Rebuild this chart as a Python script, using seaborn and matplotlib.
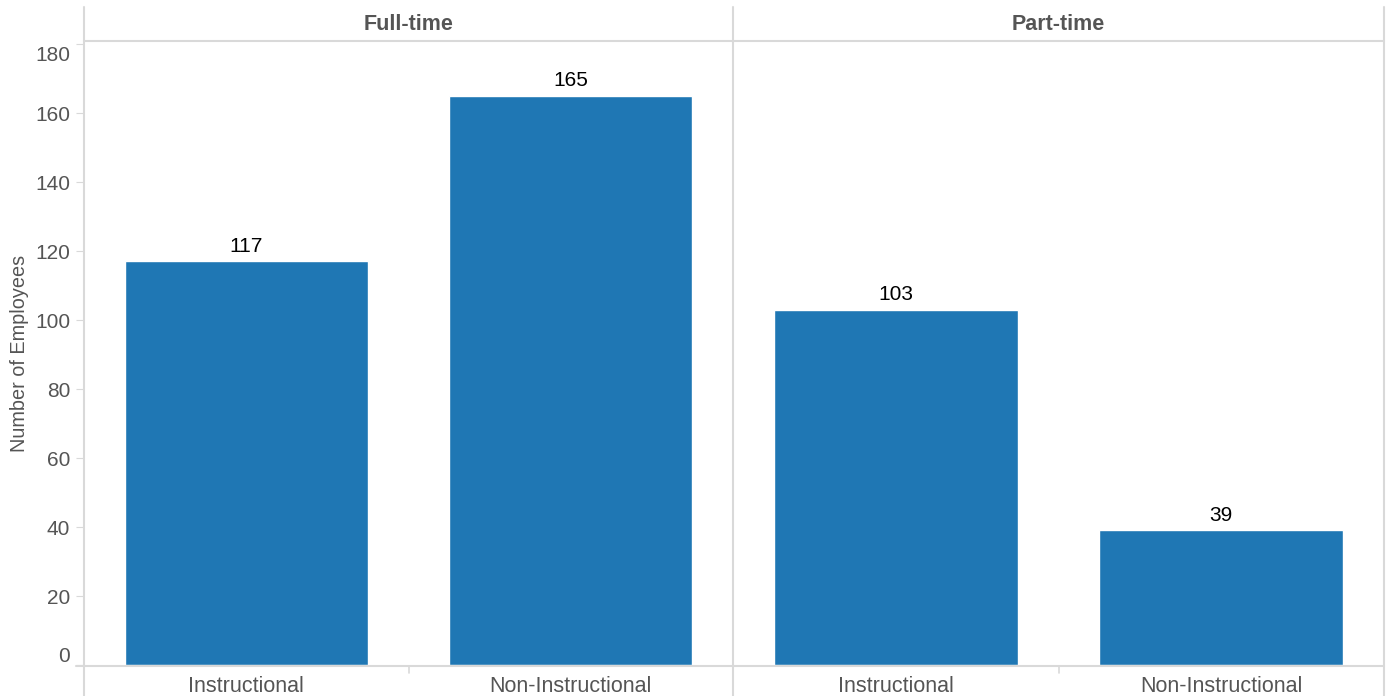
import pandas as pd
import numpy as np
import matplotlib
matplotlib.use("Agg")
import matplotlib.pyplot as plt
import seaborn as sns
from matplotlib.lines import Line2D
from matplotlib.transforms import ScaledTranslation

sns.set_style("white")
plt.rcParams["font.family"] = ["Liberation Sans", "DejaVu Sans"]

# data
panels = ["Full-time", "Part-time"]
categories = ["Instructional", "Non-Instructional"]
full_time = [117, 165]
part_time = [103, 39]

df = pd.DataFrame({
    "status": ["Full-time"] * 2 + ["Part-time"] * 2,
    "type": categories * 2,
    "count": full_time + part_time,
})

grey = "#555555"
line_c = "#d9d9d9"
W, H = 1386, 696

fig = plt.figure(figsize=(13.86, 6.96), dpi=100)

def fx(px):
    return px / W

def fy(py):
    return 1 - py / H

edges = [84, 733, 1384]
top_px, bot_px = 41, 665

for i, name in enumerate(panels):
    left, right = edges[i], edges[i + 1]
    ax = fig.add_axes([fx(left), fy(bot_px), fx(right - left), fy(top_px) - fy(bot_px)])
    sub = df[df["status"] == name]
    sns.barplot(data=sub, x="type", y="count", order=categories,
                color="#1f77b4", saturation=1, width=0.75, ax=ax)
    ax.set_ylim(0, 180.9)
    ax.set_xlim(-0.5, 1.5)
    ax.set_yticks(np.arange(0, 181, 20))
    for s in ax.spines.values():
        s.set_visible(False)
    ax.bar_label(ax.containers[0], padding=4, fontsize=15, color="black")
    ax.set_xlabel("")
    ax.set_xticks([0, 1])
    ax.set_xticklabels(categories, fontsize=15.5, color=grey)
    ax.tick_params(axis="x", length=0, pad=8)
    if i == 0:
        ax.set_ylabel("Number of Employees", fontsize=14.3, color=grey, labelpad=4)
        ax.tick_params(axis="y", length=6, color=line_c, labelsize=15,
                       labelcolor=grey, pad=4, left=True)
        labels = ax.get_yticklabels()
        labels[0].set_transform(labels[0].get_transform() + ScaledTranslation(0, 0.1, fig.dpi_scale_trans))
        labels[-1].set_transform(labels[-1].get_transform() + ScaledTranslation(0, -0.09, fig.dpi_scale_trans))
    else:
        ax.set_ylabel("")
        ax.set_yticklabels([])
        ax.tick_params(axis="y", length=0)
    fig.text(fx((left + right) / 2), fy(25), name, ha="center", va="center",
             fontsize=15.5, fontweight="bold", color=grey)
    # small tick between categories
    fig.add_artist(Line2D([fx(left + (right - left) / 2)] * 2, [fy(666), fy(673)],
                          color=line_c, lw=1.2))

# frame lines
for x in edges:
    fig.add_artist(Line2D([fx(x), fx(x)], [fy(7), fy(696)], color=line_c, lw=1.5))
fig.add_artist(Line2D([fx(84), fx(1384)], [fy(top_px), fy(top_px)], color=line_c, lw=1.5))
fig.add_artist(Line2D([fx(76), fx(1384)], [fy(bot_px + 1), fy(bot_px + 1)], color=line_c, lw=1.5))

fig.savefig("out.png", dpi=100)
